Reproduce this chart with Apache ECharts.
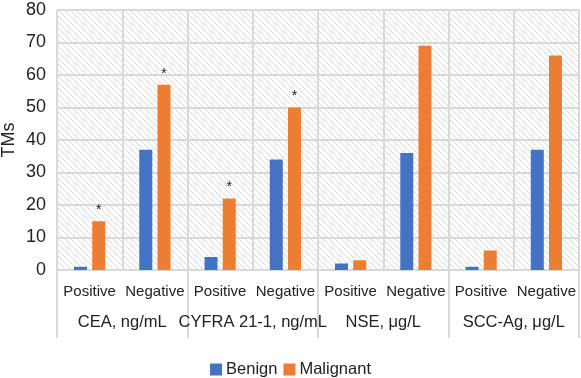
<!DOCTYPE html>
<html>
<head>
<meta charset="utf-8">
<style>
  html, body { margin: 0; padding: 0; background: #fff; }
  #main { width: 581px; height: 378px; }
</style>
<script src="https://cdn.jsdelivr.net/npm/echarts@6/dist/echarts.min.js"></script>
</head>
<body>
<div id="main"></div>
<script>
// data
var subLabels = ['Positive', 'Negative', 'Positive', 'Negative', 'Positive', 'Negative', 'Positive', 'Negative'];
var groupLabels = ['CEA, ng/mL', 'CYFRA 21-1, ng/mL', 'NSE, μg/L', 'SCC-Ag, μg/L'];
var benign = [1, 37, 4, 34, 2, 36, 1, 37];
var malignant = [15, 57, 22, 50, 3, 69, 6, 66];
var stars = ['*', '*', '*', '*', '', '', '', ''];
var yTicks = [0, 80, 10];

// hatched background for the plot area
function hatch() {
  var s = 6;
  var c = document.createElement('canvas');
  c.width = s; c.height = s;
  var ctx = c.getContext('2d');
  ctx.fillStyle = '#ffffff';
  ctx.fillRect(0, 0, s, s);
  ctx.strokeStyle = '#d9d9d9';
  ctx.lineWidth = 1;
  ctx.beginPath();
  ctx.moveTo(-1, -1); ctx.lineTo(s + 1, s + 1);
  ctx.moveTo(-1, s - 1); ctx.lineTo(1, s + 1);
  ctx.moveTo(s - 1, -1); ctx.lineTo(s + 1, 1);
  ctx.stroke();
  return c;
}

var chartDom = document.getElementById('main');
var myChart = echarts.init(chartDom);
var gridColor = '#d9d9d9';
var font = 'Liberation Sans, Arial, sans-serif';

var option = {
  animation: false,
  textStyle: { fontFamily: font },
  grid: {
    left: 57, right: 2, top: 10, bottom: 108,
    containLabel: false,
    outerBoundsMode: 'none',
    show: true,
    borderWidth: 0,
    backgroundColor: { image: hatch(), repeat: 'repeat' }
  },
  legend: {
    top: 356,
    left: 'center',
    itemWidth: 12,
    itemHeight: 12,
    itemGap: 6,
    icon: 'rect',
    textStyle: { fontSize: 16.5, color: '#222', fontFamily: font, padding: [0, 0, 0, -1] },
    data: ['Benign', 'Malignant']
  },
  xAxis: [
    {
      type: 'category',
      data: subLabels,
      position: 'bottom',
      axisLine: { show: true, lineStyle: { color: gridColor, width: 2 } },
      axisTick: { show: false },
      axisLabel: { interval: 0, fontSize: 15, color: '#222', margin: 14 },
      splitLine: { show: true, interval: 0, lineStyle: { color: gridColor, width: 2 } }
    },
    {
      type: 'category',
      data: groupLabels,
      position: 'bottom',
      axisLine: { show: false },
      axisTick: { show: true, interval: 0, length: 68, lineStyle: { color: gridColor, width: 2 } },
      axisLabel: { interval: 0, fontSize: 16.5, color: '#222', margin: 44 },
      splitLine: { show: false }
    }
  ],
  yAxis: {
    type: 'value',
    min: yTicks[0],
    max: yTicks[1],
    interval: yTicks[2],
    name: 'TMs',
    nameLocation: 'middle',
    nameMoveOverlap: false,
    nameGap: 39,
    nameTextStyle: { fontSize: 18, color: '#222' },
    axisLine: { show: false },
    axisTick: { show: false },
    axisLabel: { fontSize: 18, color: '#222', margin: 11 },
    splitLine: { show: true, lineStyle: { color: gridColor, width: 2 } }
  },
  series: [
    {
      name: 'Benign',
      type: 'bar',
      xAxisIndex: 0,
      data: benign,
      barWidth: 13,
      barGap: '40%',
      itemStyle: { color: '#4472c4' }
    },
    {
      name: 'Malignant',
      type: 'bar',
      xAxisIndex: 0,
      data: malignant,
      barWidth: 13,
      barGap: '40%',
      itemStyle: { color: '#ed7d31' },
      label: {
        show: true,
        position: 'top',
        distance: 4,
        fontSize: 14,
        color: '#222',
        formatter: function (p) { return stars[p.dataIndex]; }
      }
    }
  ]
};

myChart.setOption(option, true);
</script>
</body>
</html>
